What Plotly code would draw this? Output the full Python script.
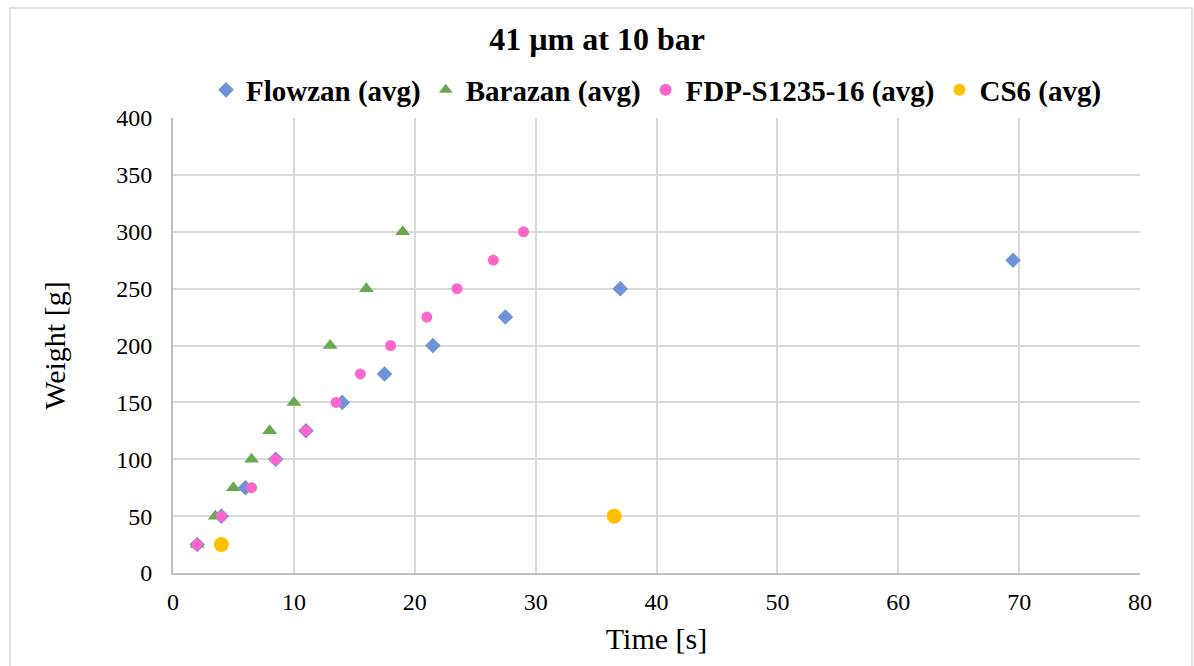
import plotly.graph_objects as go

flowzan_t = [2, 4, 6, 8.5, 11, 14, 17.5, 21.5, 27.5, 37, 69.5]
flowzan_w = [25, 50, 75, 100, 125, 150, 175, 200, 225, 250, 275]
barazan_t = [2, 3.5, 5, 6.5, 8, 10, 13, 16, 19]
barazan_w = [25, 50, 75, 100, 125, 150, 200, 250, 300]
fdp_t = [2, 4, 6.5, 8.5, 11, 13.5, 15.5, 18, 21, 23.5, 26.5, 29]
fdp_w = [25, 50, 75, 100, 125, 150, 175, 200, 225, 250, 275, 300]
cs6_t = [4, 36.5]
cs6_w = [25, 50]

FONT = "Liberation Serif, Times New Roman, serif"

fig = go.Figure()
fig.add_trace(go.Scatter(x=flowzan_t, y=flowzan_w, mode="markers", name="<b>Flowzan (avg)</b>",
                         marker=dict(symbol="diamond", size=12, color="#6f93d8")))
fig.add_trace(go.Scatter(x=barazan_t, y=barazan_w, mode="markers", name="<b>Barazan (avg)</b>",
                         marker=dict(symbol="triangle-up", size=13, color="#6aa84f")))
fig.add_trace(go.Scatter(x=fdp_t, y=fdp_w, mode="markers", name="<b>FDP-S1235-16 (avg)</b>",
                         marker=dict(symbol="circle", size=11, color="#ff66cc")))
fig.add_trace(go.Scatter(x=cs6_t, y=cs6_w, mode="markers", name="<b>CS6 (avg)</b>",
                         marker=dict(symbol="circle", size=15, color="#ffc000")))

fig.update_layout(
    width=1194, height=666,
    margin=dict(l=173, r=54, t=118, b=93),
    paper_bgcolor="white", plot_bgcolor="white",
    font=dict(family=FONT, color="black"),
    title=dict(text="<b>41 µm at 10 bar</b>", x=0.5, xanchor="center", y=0.941, yanchor="middle",
               font=dict(size=32, family=FONT, color="black")),
    legend=dict(orientation="h", x=0.5, xanchor="center", y=1.0615, yanchor="middle",
                font=dict(size=29, family=FONT, color="black"), itemsizing="constant",
                traceorder="normal", itemwidth=30, tracegroupgap=0),
    showlegend=True,
)
fig.update_xaxes(range=[0, 80], dtick=10, showgrid=True, gridcolor="#d9d9d9", gridwidth=2,
                 showline=True, linecolor="#bfbfbf", linewidth=2, zeroline=False,
                 tickfont=dict(size=24, family=FONT), ticks="", ticklabelstandoff=6,
                 title=dict(text="Time [s]", font=dict(size=30, family=FONT), standoff=14))
fig.update_yaxes(range=[0, 400], dtick=50, showgrid=True, gridcolor="#d9d9d9", gridwidth=2,
                 showline=True, linecolor="#bfbfbf", linewidth=2, zeroline=False,
                 tickfont=dict(size=24, family=FONT), ticks="", ticklabelstandoff=14,
                 title=dict(text="Weight [g]", font=dict(size=30, family=FONT), standoff=42))
fig.add_shape(type="rect", xref="paper", yref="paper", x0=-0.1686, x1=1.0538, y0=-0.213, y1=1.2418,
              line=dict(color="#d9d9d9", width=1.5), fillcolor="rgba(0,0,0,0)", layer="below")

fig.write_html("out.html")
